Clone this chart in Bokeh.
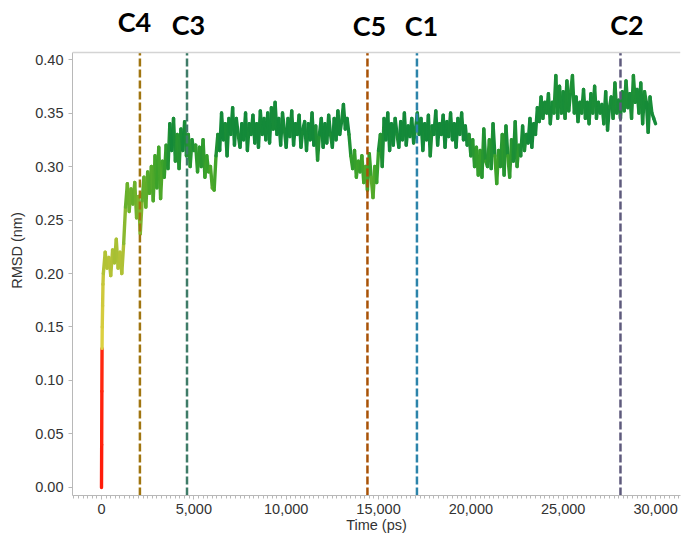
import numpy as np
from bokeh.plotting import figure
from bokeh.models import Span, Label, NumeralTickFormatter, Range1d, FixedTicker, ColumnDataSource
from bokeh.embed import file_html
from bokeh.resources import INLINE

# ---- data ----
ramp_time = [0, 10, 20, 30, 40, 60, 80]
ramp_rmsd = [0.0, 0.04, 0.09, 0.13, 0.15, 0.17, 0.19]

rmsd_blocks = [
    [0.200, 0.220, 0.205, 0.215, 0.198, 0.222, 0.210, 0.232, 0.205, 0.220],  # 100-1000
    [0.200, 0.228, 0.262, 0.284, 0.258, 0.279, 0.265, 0.285, 0.252, 0.272],  # 1100-2000
    [0.237, 0.268, 0.290, 0.262, 0.295, 0.275, 0.300, 0.268, 0.310, 0.280],
    [0.318, 0.270, 0.305, 0.290, 0.320, 0.298, 0.340, 0.315, 0.345, 0.305],
    [0.330, 0.298, 0.335, 0.315, 0.342, 0.310, 0.330, 0.300, 0.325, 0.315],
    [0.320, 0.295, 0.318, 0.300, 0.325, 0.290, 0.310, 0.295, 0.300, 0.280],
    [0.278, 0.310, 0.330, 0.315, 0.350, 0.325, 0.340, 0.310, 0.345, 0.330],
    [0.355, 0.320, 0.345, 0.330, 0.318, 0.340, 0.325, 0.350, 0.315, 0.340],
    [0.330, 0.348, 0.322, 0.340, 0.318, 0.352, 0.330, 0.345, 0.325, 0.350],
    [0.322, 0.355, 0.335, 0.360, 0.330, 0.345, 0.320, 0.350, 0.335, 0.318],
    [0.345, 0.328, 0.352, 0.320, 0.340, 0.330, 0.348, 0.318, 0.335, 0.342],
    [0.315, 0.340, 0.325, 0.350, 0.320, 0.338, 0.306, 0.330, 0.345, 0.318],
    [0.340, 0.322, 0.348, 0.330, 0.318, 0.345, 0.325, 0.352, 0.330, 0.342],
    [0.358, 0.335, 0.345, 0.330, 0.310, 0.298, 0.315, 0.290, 0.305, 0.295],
    [0.310, 0.285, 0.300, 0.278, 0.312, 0.290, 0.271, 0.300, 0.285, 0.315],
    [0.330, 0.300, 0.345, 0.325, 0.350, 0.315, 0.340, 0.320, 0.345, 0.330],
    [0.318, 0.342, 0.325, 0.350, 0.320, 0.338, 0.328, 0.345, 0.322, 0.335],
    [0.350, 0.330, 0.345, 0.315, 0.340, 0.325, 0.348, 0.310, 0.338, 0.330],
    [0.352, 0.320, 0.340, 0.330, 0.348, 0.318, 0.342, 0.328, 0.350, 0.325],
    [0.340, 0.318, 0.345, 0.330, 0.350, 0.325, 0.338, 0.320, 0.330, 0.310],
    [0.325, 0.300, 0.318, 0.292, 0.315, 0.290, 0.335, 0.305, 0.300, 0.325],
    [0.298, 0.340, 0.310, 0.284, 0.315, 0.300, 0.330, 0.292, 0.338, 0.310],
    [0.290, 0.325, 0.305, 0.342, 0.300, 0.320, 0.310, 0.338, 0.315, 0.330],
    [0.322, 0.345, 0.318, 0.340, 0.330, 0.355, 0.342, 0.365, 0.345, 0.360],
    [0.350, 0.368, 0.340, 0.360, 0.350, 0.385, 0.345, 0.375, 0.350, 0.370],
    [0.345, 0.380, 0.352, 0.370, 0.385, 0.350, 0.365, 0.342, 0.360, 0.350],
    [0.372, 0.345, 0.360, 0.340, 0.368, 0.350, 0.375, 0.345, 0.360, 0.350],
    [0.358, 0.340, 0.370, 0.334, 0.355, 0.365, 0.345, 0.378, 0.350, 0.362],
    [0.345, 0.370, 0.352, 0.380, 0.355, 0.368, 0.345, 0.385, 0.360, 0.372],
    [0.350, 0.378, 0.340, 0.370, 0.360, 0.332, 0.365, 0.350, 0.345, 0.340],
]

cluster_names = ["C4", "C3", "C5", "C1", "C2"]
cluster_times = [2080, 4630, 14400, 17080, 28100]
cluster_colors = ["#a07510", "#3f7c68", "#a85206", "#2c84aa", "#5e5a7c"]

x_ticks = [0, 5000, 10000, 15000, 20000, 25000, 30000]
y_ticks = [0.0, 0.05, 0.10, 0.15, 0.20, 0.25, 0.30, 0.35, 0.40]

# ---- assemble series ----
block_rmsd = [v for blk in rmsd_blocks for v in blk]
block_time = [100 * (i + 1) for i in range(len(block_rmsd))]
time = np.array(ramp_time + block_time, dtype=float)
rmsd = np.array(ramp_rmsd + block_rmsd, dtype=float)

# colour gradient by value (red -> yellow -> green)
stops = [0.0, 0.128, 0.14, 0.19, 0.22, 0.27, 0.30, 0.33, 0.36, 0.40]
stop_cols = ["#ff1a0a", "#ff2a10", "#dcd040", "#ccc83c", "#a8c034", "#6cb22c",
             "#3aa22a", "#13893a", "#1a8e38", "#2a9a33"]
rgb = np.array([[int(c[i:i + 2], 16) for i in (1, 3, 5)] for c in stop_cols], dtype=float)
mid = (rmsd[:-1] + rmsd[1:]) / 2
cols = []
for m in mid:
    r, g, b = (np.interp(m, stops, rgb[:, k]) for k in range(3))
    cols.append("#%02x%02x%02x" % (int(r), int(g), int(b)))

src = ColumnDataSource(dict(x0=time[:-1], x1=time[1:], y0=rmsd[:-1], y1=rmsd[1:], c=cols))

Y_BOT, Y_TOP, Y_MAX = -0.0075, 0.4066, 0.4505
PX = 1 / 1070  # one vertical pixel in data units

p = figure(width=681, height=535, output_backend="svg", toolbar_location=None,
           x_range=Range1d(-1570, 31350), y_range=Range1d(Y_BOT, Y_MAX),
           min_border_left=72, min_border_top=5, min_border_right=1, min_border_bottom=40)
p.outline_line_color = None
p.grid.visible = False

# light top border of the plotting area
p.add_layout(Span(location=Y_TOP, dimension="width", line_color="#d4d4d4", line_width=1.5))

p.segment("x0", "y0", "x1", "y1", source=src, line_color="c", line_width=3.4, line_cap="round")

# dashed markers, from the axis up to the top border
vsrc = ColumnDataSource(dict(x=cluster_times, y0=[Y_BOT] * len(cluster_times),
                             y1=[Y_TOP] * len(cluster_times), c=cluster_colors))
p.segment("x", "y0", "x", "y1", source=vsrc, line_color="c", line_width=2.5, line_dash="8 3")

label_dx = [-5.5, 1.5, 2, 4.5, 6.5]
label_dy = [31, 28, 27, 27, 28]
for name, t, dx, dy in zip(cluster_names, cluster_times, label_dx, label_dy):
    p.add_layout(Label(x=t, y=Y_TOP + dy * PX, x_offset=dx, text=name, text_align="center",
                       text_baseline="middle", text_font="Lato", text_font_style="bold",
                       text_font_size="27px", text_color="black"))

tick_font = "Liberation Sans"
# x axis
xa = p.xaxis[0]
xa.ticker = FixedTicker(ticks=x_ticks, minor_ticks=list(range(-1500, 31350, 250)))
xa.formatter = NumeralTickFormatter(format="0,0")
xa.axis_label = "Time (ps)"
xa.axis_line_color = "#b8b8b8"
xa.major_tick_line_color = "#b8b8b8"
xa.minor_tick_line_color = "#b8b8b8"
xa.major_tick_in = 0
xa.major_tick_out = 4
xa.minor_tick_in = 0
xa.minor_tick_out = 3
xa.major_label_standoff = 4
xa.axis_label_standoff = 0

# y axis
ya = p.yaxis[0]
ya.ticker = FixedTicker(ticks=y_ticks)
ya.formatter = NumeralTickFormatter(format="0.00")
ya.axis_label = "RMSD (nm)"
ya.bounds = (Y_BOT, Y_TOP)
ya.axis_line_color = "#b8b8b8"
ya.major_tick_line_color = "#b8b8b8"
ya.minor_tick_line_color = None
ya.major_tick_in = 0
ya.major_tick_out = 4
ya.major_label_standoff = 5
ya.axis_label_standoff = 7

for ax in (xa, ya):
    ax.major_label_text_font = tick_font
    ax.major_label_text_font_size = "14.5px"
    ax.major_label_text_color = "#333333"
    ax.axis_label_text_font = tick_font
    ax.axis_label_text_font_size = "14.5px"
    ax.axis_label_text_font_style = "normal"
    ax.axis_label_text_color = "#333333"

open("out.html", "w").write(file_html(p, INLINE))
